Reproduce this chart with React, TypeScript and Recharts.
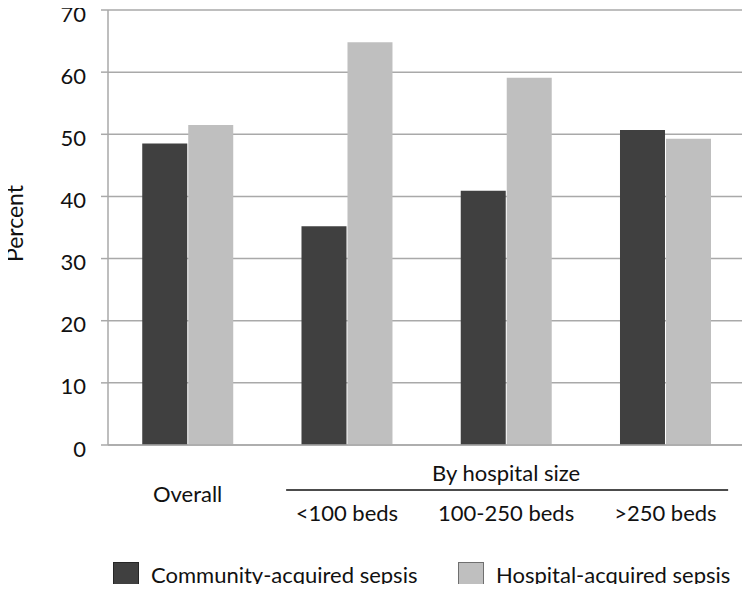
import React from 'react';
import {
  BarChart, Bar, XAxis, YAxis, CartesianGrid, Legend,
} from 'recharts';

const CATEGORIES = ['Overall', '<100 beds', '100-250 beds', '>250 beds'];
const COMMUNITY = [48.5, 35.2, 40.9, 50.7];
const HOSPITAL = [51.5, 64.8, 59.1, 49.3];
const Y_TICKS = [0, 10, 20, 30, 40, 50, 60, 70];

const SERIES = [
  { key: 'community', label: 'Community-acquired sepsis', fill: '#404040', border: '#262626' },
  { key: 'hospital', label: 'Hospital-acquired sepsis', fill: '#bfbfbf', border: '#6f6f6f' },
];

const GRID = '#a9a9a9';
const FONT = 'Lato, "Open Sans", sans-serif';
const FS = 22;

const data = CATEGORIES.map((category, i) => ({
  category,
  community: COMMUNITY[i],
  hospital: HOSPITAL[i],
}));

// group header sits over the three hospital-size categories
function CategoryTick(props: any) {
  const { x, y, payload, index } = props;
  if (index === 0) {
    return (
      <text x={x} y={y + 48} textAnchor="middle" dominantBaseline="central" fontSize={FS} fill="#111">
        {payload.value}
      </text>
    );
  }
  return (
    <g>
      {index === 2 && (
        <>
          <text x={x} y={y + 27} textAnchor="middle" dominantBaseline="central" fontSize={FS} fill="#111">
            By hospital size
          </text>
          <line x1={x - 220} x2={x + 222} y1={y + 45} y2={y + 45} stroke="#111" strokeWidth={1.5} />
        </>
      )}
      <text x={x} y={y + 67} textAnchor="middle" dominantBaseline="central" fontSize={FS} fill="#111">
        {payload.value}
      </text>
    </g>
  );
}

function ValueTick(props: any) {
  const { x, y, payload } = props;
  return (
    <text x={x} y={y + 3} textAnchor="end" dominantBaseline="central" fontSize={FS} fill="#111">
      {payload.value}
    </text>
  );
}

function PercentLabel(props: any) {
  const { viewBox } = props;
  const cy = viewBox.y + viewBox.height / 2 - 4;
  return (
    <text x={14} y={cy} transform={`rotate(-90, 14, ${cy})`} textAnchor="middle"
      dominantBaseline="central" fontSize={23} fill="#111">
      Percent
    </text>
  );
}

function LegendContent() {
  return (
    <div style={{ display: 'flex', paddingLeft: 113, fontFamily: FONT }}>
      {SERIES.map((s, i) => (
        <div key={s.key} style={{ display: 'flex', alignItems: 'center', width: i === 0 ? 345 : 'auto' }}>
          <span style={{
            display: 'inline-block', width: 24, height: 24, background: s.fill,
            border: `1px solid ${s.border}`, marginRight: 12,
          }} />
          <span style={{ fontSize: FS, color: '#111', lineHeight: '26px' }}>{s.label}</span>
        </div>
      ))}
    </div>
  );
}

export default function App() {
  return (
    <div style={{ margin: -8, width: 750, height: 592, background: '#fff', position: 'relative' }}>
      <BarChart
        width={750}
        height={592}
        data={data}
        margin={{ top: 10, right: 5, bottom: 0, left: 0 }}
        barCategoryGap="21.5%"
        barGap={1}
        style={{ fontFamily: FONT }}
      >
        <CartesianGrid vertical={false} stroke={GRID} strokeWidth={1.5} />
        <XAxis
          dataKey="category"
          interval={0}
          height={121}
          tickLine={false}
          tickSize={0}
          tickMargin={0}
          axisLine={{ stroke: GRID, strokeWidth: 1.5 }}
          tick={<CategoryTick />}
        />
        <YAxis
          domain={[0, 70]}
          ticks={Y_TICKS}
          width={108}
          tickSize={7}
          tickMargin={15}
          tickLine={{ stroke: GRID, strokeWidth: 1.5 }}
          axisLine={{ stroke: GRID, strokeWidth: 1.5 }}
          tick={<ValueTick />}
          label={<PercentLabel />}
        />
        <Legend
          verticalAlign="bottom"
          wrapperStyle={{ top: 562, bottom: 'auto', left: 0, height: 26 }}
          content={<LegendContent />}
        />
        {SERIES.map((s) => (
          <Bar key={s.key} dataKey={s.key} name={s.label} fill={s.fill} isAnimationActive={false} />
        ))}
      </BarChart>
    </div>
  );
}
